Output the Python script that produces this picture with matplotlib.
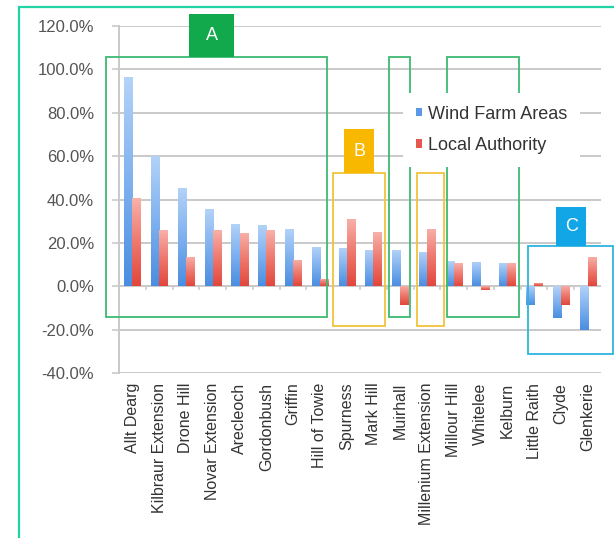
import numpy as np
import matplotlib
matplotlib.use("Agg")
import matplotlib.pyplot as plt
from matplotlib.patches import Rectangle, Patch
from matplotlib.colors import LinearSegmentedColormap
from matplotlib.ticker import FuncFormatter, MultipleLocator

plt.rcParams['font.family'] = ['Liberation Sans', 'DejaVu Sans']

# Wind farm sites
sites = ["Allt Dearg", "Kilbraur Extension", "Drone Hill", "Novar Extension",
         "Arecleoch", "Gordonbush", "Griffin", "Hill of Towie", "Spurness",
         "Mark Hill", "Muirhall", "Millenium Extension", "Millour Hill",
         "Whitelee", "Kelburn", "Little Raith", "Clyde", "Glenkerie"]

# Percentage change, wind farm areas vs local authority
wind_farm_areas = [0.963, 0.600, 0.454, 0.358, 0.289, 0.282, 0.263, 0.182,
                   0.177, 0.166, 0.166, 0.158, 0.115, 0.112, 0.108,
                   -0.088, -0.145, -0.203]
local_authority = [0.405, 0.258, 0.135, 0.258, 0.246, 0.258, 0.120, 0.035,
                   0.309, 0.248, -0.088, 0.263, 0.105, -0.018, 0.105,
                   0.015, -0.088, 0.135]

series_names = ["Wind Farm Areas", "Local Authority"]
y_ticks = [-0.4, -0.2, 0.0, 0.2, 0.4, 0.6, 0.8, 1.0, 1.2]

W, H = 614, 538
fig = plt.figure(figsize=(W / 100, H / 100), dpi=100)
ax = fig.add_axes([119 / W, (H - 373) / H, (601 - 119) / W, (373 - 26) / H])

x = np.arange(len(sites))
bw = 0.3

blue_cmap = LinearSegmentedColormap.from_list("b", ["#4a8de0", "#7fb1ef", "#b4d3f8"])
red_cmap = LinearSegmentedColormap.from_list("r", ["#e2463b", "#ee786e", "#f8b1aa"])
grad = np.linspace(0, 1, 256).reshape(-1, 1)


def gradient_bars(xpos, vals, cmap):
    bars = ax.bar(xpos, vals, bw, color="none", edgecolor="none", zorder=3)
    for b in bars:
        x0, y0 = b.get_x(), b.get_y()
        w, h = b.get_width(), b.get_height()
        lo, hi = min(y0, y0 + h), max(y0, y0 + h)
        im = ax.imshow(grad, extent=(x0, x0 + w, lo, hi), origin="lower",
                       cmap=cmap, aspect="auto", zorder=3, interpolation="bilinear")
        im.set_clip_path(b)
    return bars


gradient_bars(x - bw / 2, wind_farm_areas, blue_cmap)
gradient_bars(x + bw / 2, local_authority, red_cmap)

ax.set_xlim(-0.5, len(sites) - 0.5)
ax.set_ylim(-0.4, 1.2)

# grid and axes styling
grid_c = "#c9c9c9"
for yv in y_ticks:
    ax.axhline(yv, color=grid_c, lw=1.4, zorder=1)
ax.yaxis.set_major_locator(MultipleLocator(0.2))
ax.yaxis.set_major_formatter(FuncFormatter(lambda v, p: f"{v * 100:.1f}%"))
ax.tick_params(axis="y", length=5, width=1.2, color=grid_c, labelsize=12,
               labelcolor="#555555", pad=13)
for s in ["top", "right", "bottom"]:
    ax.spines[s].set_visible(False)
ax.spines["left"].set_color(grid_c)
ax.spines["left"].set_linewidth(1.4)

ax.set_xticks(x)
ax.set_xticklabels(sites, rotation=90, fontsize=11.5, color="#333333")
ax.tick_params(axis="x", length=0, pad=7)

# category separators on the zero line
for b in np.arange(0.5, len(sites) - 0.5, 1.0):
    ax.plot([b, b], [0, -0.014], color=grid_c, lw=1.2, zorder=2)

# highlight groups
def box(x0, x1, y0, y1, color, lw=1.3):
    ax.add_patch(Rectangle((x0, y0), x1 - x0, y1 - y0, fill=False, edgecolor=color,
                           lw=lw, clip_on=False, zorder=4))


def tag(x0, x1, y0, y1, color, letter):
    ax.add_patch(Rectangle((x0, y0), x1 - x0, y1 - y0, facecolor=color, edgecolor="none",
                           clip_on=False, zorder=5))
    ax.text((x0 + x1) / 2, (y0 + y1) / 2, letter, color="white", fontsize=13,
            ha="center", va="center", zorder=6, clip_on=False)


green, green_fill = "#3dba72", "#12a94c"
yellow, yellow_fill = "#f2c43a", "#f8b800"
cyan, cyan_fill = "#2fb3dc", "#12a6e6"

box(-0.985, 7.267, -0.143, 1.057, green)
box(9.571, 10.378, -0.143, 1.057, green)
box(11.737, 14.448, -0.143, 1.057, green)
tag(2.103, 3.805, 1.058, 1.255, green_fill, "A")

box(7.502, 9.433, -0.183, 0.523, yellow)
box(10.639, 11.636, -0.183, 0.523, yellow)
tag(7.913, 9.022, 0.523, 0.723, yellow_fill, "B")

box(14.784, 17.958, -0.314, 0.186, cyan)
tag(15.834, 16.954, 0.186, 0.366, cyan_fill, "C")

handles = [Patch(facecolor="#5d98e8", edgecolor="none"),
           Patch(facecolor="#e8574f", edgecolor="none")]
leg = fig.legend(handles, series_names, loc="upper left",
                 bbox_to_anchor=(403 / W, 1 - 93 / H), fontsize=13,
                 frameon=True, fancybox=False, framealpha=1, edgecolor="none",
                 facecolor="white", handlelength=0.35, handleheight=0.35,
                 handletextpad=0.35, labelspacing=0.8, borderpad=0.7,
                 borderaxespad=0, labelcolor="#333333")
leg.set_zorder(10)

# outer frame
fig.patches.append(Rectangle((19 / W, -0.05), 1.0, (H - 7) / H + 0.05, fill=False,
                             edgecolor="#22d3a6", lw=1.6, transform=fig.transFigure))

fig.savefig("out.png", dpi=100, facecolor="white")
